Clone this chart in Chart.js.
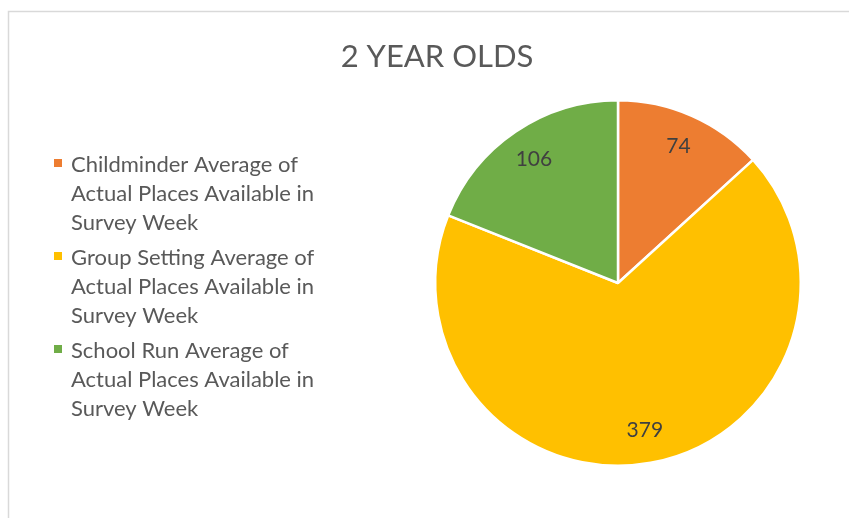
<!DOCTYPE html>
<html>
<head>
<meta charset="utf-8">
<script src="https://cdn.jsdelivr.net/npm/chart.js@4.4.1/dist/chart.umd.min.js"></script>
<style>
  html, body { margin: 0; padding: 0; background: #fff; }
  #wrap { width: 849px; height: 518px; }
</style>
</head>
<body>
<div id="wrap"><canvas id="pie-chart" width="849" height="518"></canvas></div>
<script>
const chartTitle = '2 YEAR OLDS';
const categories = [
    ['Childminder Average of', 'Actual Places Available in', 'Survey Week'],
    ['Group Setting Average of', 'Actual Places Available in', 'Survey Week'],
    ['School Run Average of', 'Actual Places Available in', 'Survey Week']
];
const places = [74, 379, 106];
const colours = ['#ED7D31', '#FFC000', '#70AD47'];

const FONT = 'Lato, "Open Sans", sans-serif';

// frame, title, legend and value labels, drawn by hand like Excel does
const excelLook = {
    id: 'excelLook',
    beforeDraw(chart) {
        const ctx = chart.ctx;
        ctx.save();
        ctx.strokeStyle = '#D9D9D9';
        ctx.lineWidth = 1.5;
        ctx.strokeRect(8.5, 11.5, 900, 600);

        ctx.fillStyle = '#595959';
        ctx.font = '31px ' + FONT;
        ctx.textAlign = 'center';
        ctx.textBaseline = 'alphabetic';
        ctx.fillText(chartTitle, 437, 67);

        ctx.font = '22px ' + FONT;
        ctx.textAlign = 'left';
        let y = 172;
        categories.forEach((lines, i) => {
            ctx.fillStyle = colours[i];
            ctx.fillRect(54, y - 13, 8, 8);
            ctx.fillStyle = '#595959';
            lines.forEach((t, j) => {
                ctx.fillText(t, 71, y);
                y += 29;
            });
            y += 6;
        });
        ctx.restore();
    },
    afterDatasetsDraw(chart) {
        const ctx = chart.ctx;
        const arcs = chart.getDatasetMeta(0).data;
        ctx.save();
        ctx.fillStyle = '#404040';
        ctx.font = '21px ' + FONT;
        ctx.textAlign = 'center';
        ctx.textBaseline = 'middle';
        arcs.forEach((arc, i) => {
            const mid = (arc.startAngle + arc.endAngle) / 2;
            const r = arc.outerRadius * 0.82;
            ctx.fillText(String(places[i]), arc.x + Math.cos(mid) * r, arc.y + Math.sin(mid) * r);
        });
        ctx.restore();
    }
};

const data = {
    labels: categories,
    datasets: [{
        data: places,
        backgroundColor: colours,
        borderColor: '#FFFFFF',
        borderWidth: 2.5
    }]
};

const configPie = {
    type: 'pie',
    data: data,
    options: {
        responsive: false,
        animation: false,
        devicePixelRatio: 1,
        layout: { padding: { left: 434, right: 47, top: 99, bottom: 51 } },
        plugins: {
            legend: { display: false },
            title: { display: false },
            tooltip: { enabled: false }
        }
    },
    plugins: [excelLook]
};

const pieChart = document.querySelector('#pie-chart');
if (pieChart) {
    const pieChartOb = new Chart(pieChart, configPie);
}
</script>
</body>
</html>
